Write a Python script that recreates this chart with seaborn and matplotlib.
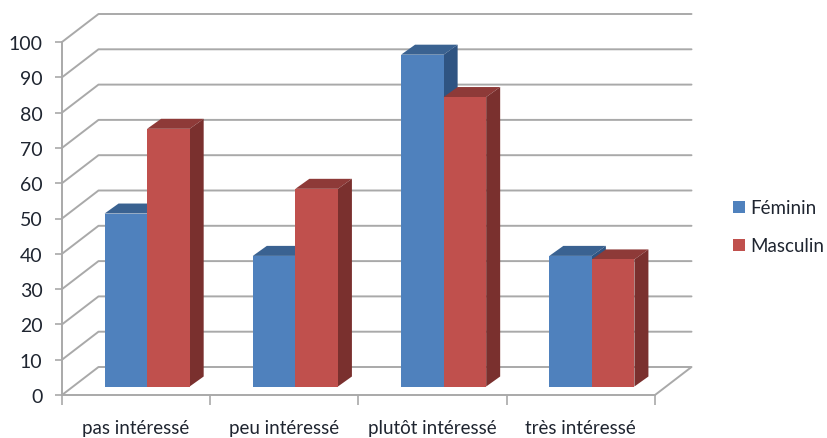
import pandas as pd
import seaborn as sns
import matplotlib.pyplot as plt
from matplotlib.patches import Polygon

categories = ['pas intéressé', 'peu intéressé', 'plutôt intéressé', 'très intéressé']
feminin = [49, 37, 94, 37]
masculin = [73, 56, 82, 36]
y_ticks = list(range(0, 101, 10))

W, H = 828, 439
GRID = '#a9a9a9'
TEXT = '#1f2530'

sns.set_theme(style='white')
plt.rcParams['font.family'] = ['Lato', 'DejaVu Sans']

df = pd.DataFrame({
    'categorie': categories * 2,
    'valeur': feminin + masculin,
    'sexe': ['Féminin'] * 4 + ['Masculin'] * 4,
})

fig = plt.figure(figsize=(W / 100, H / 100), dpi=100)


def axes_px(left, right, top, bottom):
    return fig.add_axes([left / W, (H - bottom) / H, (right - left) / W, (bottom - top) / H])


# front plane of the fake 3d box: carries the axes, ticks and labels
ax = axes_px(62, 655, 43, 396)
ax.set_xlim(0, 4)
ax.set_ylim(0, 100)
for s in ['top', 'right']:
    ax.spines[s].set_visible(False)
for s in ['left', 'bottom']:
    ax.spines[s].set_color(GRID)
    ax.spines[s].set_linewidth(1.4)
ax.set_yticks(y_ticks)
ax.set_xticks(range(5))
ax.set_xticklabels([])
ax.set_xticks([0.5, 1.5, 2.5, 3.5], labels=categories, minor=True)
ax.tick_params(axis='x', which='major', length=7, width=1.2, color=GRID, bottom=True)
ax.tick_params(axis='x', which='minor', length=0, pad=17, labelsize=13.5, labelcolor=TEXT, bottom=False)
ax.tick_params(axis='y', length=5, width=1.2, color=GRID, left=True, pad=9, labelsize=14, labelcolor=TEXT)

# gridlines run back along the side wall, then across the back wall
back_x = 36.5 / (655 - 62) * 4
back_y = 28 / (396 - 43) * 100
for v in y_ticks:
    if v == 0:
        ax.plot([0, back_x, 4 + back_x, 4], [0, back_y, back_y, 0], color=GRID, lw=1.4, clip_on=False, zorder=1)
    else:
        ax.plot([0, back_x, 4 + back_x], [v, v + back_y, v + back_y], color=GRID, lw=1.4, clip_on=False, zorder=1)

# bars sit part way into the box
ax2 = axes_px(62 + 11, 655 + 11, 43 - 8.5, 396 - 8.5)
ax2.patch.set_alpha(0)
sns.barplot(data=df, x='categorie', y='valeur', hue='sexe', ax=ax2, order=categories,
            palette=['#4f81bd', '#c0504d'], saturation=1, width=0.574, gap=0, linewidth=0)
ax2.set_xlim(-0.5, 3.5)
ax2.set_ylim(0, 100)
ax2.axis('off')

depth_x = 14 / (655 - 62) * 4
depth_y = 10 / (396 - 43) * 100
faces = {0: ('#3a6291', '#2f5482'), 1: ('#8e3a38', '#7a302e')}
for i, cont in enumerate(ax2.containers):
    top_col, side_col = faces[i]
    for bar in cont:
        x0, x1 = bar.get_x(), bar.get_x() + bar.get_width()
        h = bar.get_height()
        bar.set_zorder(2 + 2 * i)
        ax2.add_patch(Polygon([(x0, h), (x0 + depth_x, h + depth_y), (x1 + depth_x, h + depth_y), (x1, h)],
                              facecolor=top_col, edgecolor='none', zorder=1 + 2 * i, clip_on=False))
        ax2.add_patch(Polygon([(x1, 0), (x1 + depth_x, depth_y), (x1 + depth_x, h + depth_y), (x1, h)],
                              facecolor=side_col, edgecolor='none', zorder=1 + 2 * i, clip_on=False))

handles, labels = ax2.get_legend_handles_labels()
ax2.legend(handles, labels, loc='center left', bbox_to_anchor=(716 / W, (H - 228) / H),
           bbox_transform=fig.transFigure, frameon=False, fontsize=13.5, labelcolor=TEXT,
           handlelength=0.64, handleheight=0.64, handletextpad=0.27, labelspacing=1.12)

fig.savefig('out.png', dpi=100)
